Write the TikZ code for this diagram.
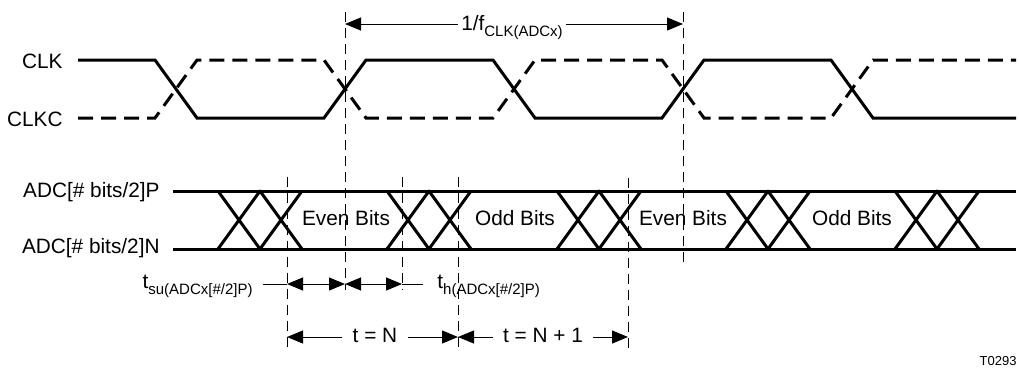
\documentclass[tikz,border=0pt]{standalone}
\usepackage{fontspec}
\setmainfont{Liberation Sans}
\usepackage{tikz}
\usetikzlibrary{arrows.meta,calc}
\tikzset{
	sig/.style={line width=1.5pt},
	sigdash/.style={sig, dash pattern=on 7.5pt off 4pt},
	guide/.style={line width=0.5pt, dash pattern=on 5pt off 3pt},
	thinline/.style={line width=0.5pt},
	dim/.style={thinline, {Triangle[length=8pt,width=6.5pt]}-{Triangle[length=8pt,width=6.5pt]}},
	dimr/.style={thinline, -{Triangle[length=8pt,width=6.5pt]}},
	lbl/.style={inner sep=0pt, font=\fontsize{10.4}{12.5}\selectfont},
}
\newcommand{\lowsub}[1]{\raisebox{-3pt}{\fontsize{7.5}{9}\selectfont #1}}

\begin{document}
\begin{tikzpicture}[x=0.5pt,y=-0.5pt]
		\useasboundingbox (0,0) rectangle (1019,377);
		\node[lbl, anchor=base east] (clk) at (63,68) {CLK};
		\node[lbl, anchor=base east] (clkc) at (63,126) {CLKC};
		\node[lbl, anchor=base east] (adcp) at (160,197) {ADC[\# bits/2]P};
		\node[lbl, anchor=base east] (adcn) at (160,253) {ADC[\# bits/2]N};
%		
		\draw[sig] (78,60) -- (155,60) -- (197,118) -- (324,118) -- (366,60) -- (493,60) -- (535,118)
			-- (662,118) -- (704,60) -- (831,60) -- (873,118) -- (1016,118);
		\draw[sigdash] (78,118) -- (155,118) -- (197,60) -- (324,60) -- (366,118) -- (493,118) -- (535,60)
			-- (662,60) -- (704,118) -- (831,118) -- (873,60) -- (1016,60);
%		
		\draw[sig] (173,191) -- (1016,191) (173,249) -- (1016,249);
		\draw[sig, line join=round] (218,191) -- (260,249) -- (302,191) (218,249) -- (260,191) -- (302,249)
			(387,191) -- (429,249) -- (471,191) (387,249) -- (429,191) -- (471,249)
			(557,191) -- (599,249) -- (641,191) (557,249) -- (599,191) -- (641,249)
			(726,191) -- (768,249) -- (810,191) (726,249) -- (768,191) -- (810,249)
			(895,191) -- (937,249) -- (979,191) (895,249) -- (937,191) -- (979,249);
		\node[lbl, anchor=base] (even1) at (346,225) {Even Bits};
		\node[lbl, anchor=base] (odd1) at (515,225) {Odd Bits};
		\node[lbl, anchor=base] (even2) at (683,225) {Even Bits};
		\node[lbl, anchor=base] (odd2) at (852,225) {Odd Bits};
%		
		\draw[guide] (287,177) -- (287,350)
			(345,12) -- (345,290)
			(402,177) -- (402,290)
			(458,177) -- (458,352)
			(628,178) -- (628,352)
			(683,12) -- (683,262);
%		
		\coordinate (p0) at (345,24);
		\coordinate (p1) at (683,24);
		\node[lbl, inner xsep=1.5pt, anchor=base] (per) at (512,30) {1/f\lowsub{CLK(ADCx)}};
		\draw[dimr] (per.west |- p0) -- (p0);
		\draw[dimr] (per.east |- p1) -- (p1);
%		
		\coordinate (su0) at (287,284);
		\coordinate (su1) at (345,284);
		\coordinate (h1) at (402,284);
		\node[lbl, inner xsep=5pt, anchor=base east] (tsu) at (263,288) {t\lowsub{su(ADCx[\#/2]P)}};
		\node[lbl, inner xsep=7pt, anchor=base west] (th) at (423,288) {t\lowsub{h(ADCx[\#/2]P)}};
		\draw[thinline] (tsu.east |- su0) -- (su0);
		\draw[dim] (su0) -- (su1);
		\draw[dim] (su1) -- (h1);
		\draw[thinline] (h1) -- (th.west |- h1);
%		
		\coordinate (n0) at (287,337);
		\coordinate (n1) at (458,337);
		\coordinate (n2) at (628,337);
		\node[lbl, inner xsep=5pt, anchor=base] (tn) at (375,342) {t = N};
		\node[lbl, inner xsep=5pt, anchor=base] (tn1) at (543,342) {t = N + 1};
		\draw[dimr] (tn.west |- n0) -- (n0);
		\draw[dimr] (tn.east |- n1) -- (n1);
		\draw[dimr] (tn1.west |- n1) -- (n1);
		\draw[dimr] (tn1.east |- n2) -- (n2);
%		
		\node[lbl, font=\fontsize{6.5}{8}\selectfont, anchor=base east] (fig) at (1017,365) {T0293};
	\end{tikzpicture}
\end{document}
